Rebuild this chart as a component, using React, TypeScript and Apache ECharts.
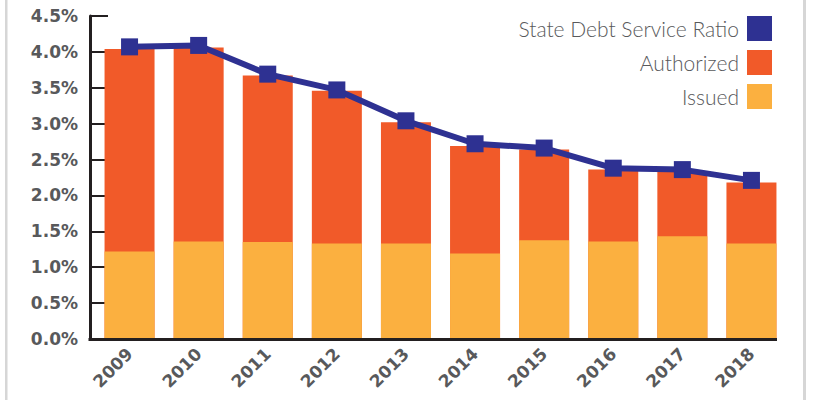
import React, { useEffect, useRef } from "react";
import * as echarts from "echarts";

const years = ["2009", "2010", "2011", "2012", "2013", "2014", "2015", "2016", "2017", "2018"];
const authorized = [4.04, 4.06, 3.67, 3.46, 3.02, 2.69, 2.64, 2.36, 2.33, 2.18];
const issued = [1.22, 1.36, 1.35, 1.33, 1.33, 1.19, 1.375, 1.36, 1.43, 1.33];
const debtServiceRatio = [4.07, 4.09, 3.69, 3.47, 3.04, 2.72, 2.66, 2.38, 2.36, 2.21];
const legendNames = ["State Debt Service Ratio", "Authorized", "Issued"];

const NAVY = "#2E3192";
const ORANGE = "#F15A29";
const GOLD = "#FBB040";
const TEXT = "#58595B";
const AXIS = "#231F20";

export default function App() {
  const ref = useRef<HTMLDivElement>(null);
  useEffect(() => {
    if (!ref.current) return;
    const chart = echarts.init(ref.current, null, { renderer: "svg" });
    chart.setOption({
      animation: false,
      backgroundColor: "#ffffff",
      grid: { left: 95, right: 29, top: 16, bottom: 61 },
      legend: {
        data: legendNames,
        orient: "vertical",
        right: 38,
        top: 11,
        align: "right",
        icon: "rect",
        itemWidth: 25,
        itemHeight: 25,
        itemGap: 9,
        textStyle: {
          fontFamily: "Lato, sans-serif",
          fontWeight: 300,
          fontSize: 21,
          lineHeight: 25,
          color: TEXT,
          padding: [0, 3, 0, 0],
        },
      },
      xAxis: {
        type: "category",
        data: years,
        boundaryGap: true,
        axisLine: { show: false },
        axisTick: { show: false },
        axisLabel: {
          rotate: 45,
          margin: 12,
          fontFamily: "'DejaVu Sans', sans-serif",
          fontWeight: "bold",
          fontSize: 17,
          color: TEXT,
        },
      },
      yAxis: {
        type: "value",
        min: 0,
        max: 4.5,
        interval: 0.5,
        offset: 5,
        splitLine: { show: false },
        axisLine: { show: true, lineStyle: { color: AXIS, width: 3 } },
        axisTick: { show: true, inside: true, length: 18, lineStyle: { color: AXIS, width: 2 } },
        axisLabel: {
          margin: 12,
          fontFamily: "'DejaVu Sans', sans-serif",
          fontWeight: "bold",
          fontSize: 17,
          color: TEXT,
          formatter: (v: number) => v.toFixed(1) + "%",
        },
      },
      graphic: [
        { type: "rect", shape: { x: 5, y: 0, width: 2.5, height: 400 }, style: { fill: "#d6d6d6" } },
        { type: "rect", shape: { x: 803, y: 0, width: 3, height: 400 }, style: { fill: "#d6d6d6" } },
        {
          type: "line",
          shape: { x1: 88.5, y1: 339.5, x2: 777, y2: 339.5 },
          style: { stroke: AXIS, lineWidth: 3 },
          z: 10,
        },
      ],
      series: [
        {
          name: "Authorized",
          type: "bar",
          data: authorized,
          barWidth: 50,
          barGap: "-100%",
          itemStyle: { color: ORANGE },
          z: 2,
        },
        {
          name: "Issued",
          type: "bar",
          data: issued,
          barWidth: 50,
          barGap: "-100%",
          itemStyle: { color: GOLD },
          z: 3,
        },
        {
          name: "State Debt Service Ratio",
          type: "line",
          data: debtServiceRatio,
          symbol: "rect",
          symbolSize: 17,
          showSymbol: true,
          lineStyle: { color: NAVY, width: 6 },
          itemStyle: { color: NAVY },
          z: 5,
        },
      ],
    });
    return () => chart.dispose();
  }, []);
  return (
    <div
      ref={ref}
      style={{ position: "fixed", left: 0, top: 0, width: 815, height: 400 }}
    />
  );
}
